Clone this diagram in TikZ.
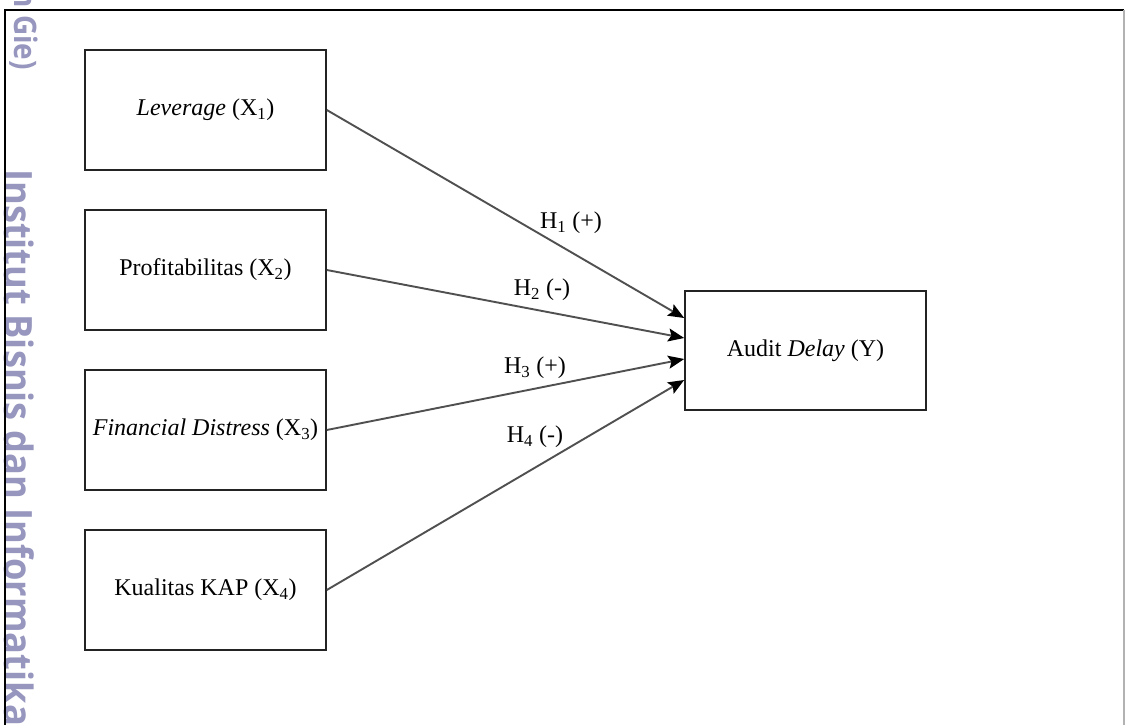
\documentclass[tikz,border=0pt]{standalone}
\usepackage{fontspec}
\usepackage{graphicx}
\setmainfont{Liberation Serif}
\newfontfamily\wmfont{Open Sans}
\usetikzlibrary{arrows.meta}
\definecolor{wmcol}{RGB}{150,150,190}
\definecolor{linecol}{RGB}{80,80,80}
\definecolor{boxcol}{RGB}{35,35,35}
\begin{document}
\begin{tikzpicture}[x=1pt,y=-1pt,
  varbox/.style={draw=boxcol, line width=1.6pt, minimum width=241pt, minimum height=120pt, inner sep=0pt, font=\fontsize{24}{28}\selectfont},
  conn/.style={draw=linecol, line width=1.9pt, -{Stealth[length=16pt,width=13pt,inset=3pt,color=black,fill=black]}},
  hlab/.style={font=\fontsize{24}{28}\selectfont, inner sep=0pt},
  wm/.style={text=wmcol, rotate=-90, inner sep=0pt, font=\wmfont\bfseries}]
\useasboundingbox (0,0) rectangle (1125,725);
\fill[white] (0,0) rectangle (1125,725);
% watermark
\node[wm, anchor=base east, font=\wmfont\bfseries\fontsize{31}{31}\selectfont] (wm1) at (14,70) {\scalebox{0.9}[1]{n Gie)}};
\node[wm, anchor=base west, font=\wmfont\bfseries\fontsize{39}{39}\selectfont] (wm2) at (5,169) {\scalebox{0.93}[1]{Institut Bisnis dan Informatika}};
% frame
\draw[black, line width=1.6pt] (5,735) -- (5,10) -- (1124,10);
\draw[gray!60, line width=1.2pt] (1124,10) -- (1124,735);
% boxes
\node[varbox] (x1) at (205.5,110) {\textit{Leverage} (X\textsubscript{1})};
\node[varbox] (x2) at (205.5,270) {Profitabilitas (X\textsubscript{2})};
\node[varbox] (x3) at (205.5,430) {\textit{Financial Distress} (X\textsubscript{3})};
\node[varbox] (x4) at (205.5,590) {Kualitas KAP (X\textsubscript{4})};
\node[varbox, minimum height=119pt] (y) at (805.5,350.5) {Audit \textit{Delay} (Y)};
\coordinate (t1) at ([yshift=32.5pt]y.west);
\coordinate (t2) at ([yshift=12.5pt]y.west);
\coordinate (t3) at ([yshift=-8.5pt]y.west);
\coordinate (t4) at ([yshift=-29.5pt]y.west);
\draw[conn] (x1.east) -- (t1);
\draw[conn] (x2.east) -- (t2);
\draw[conn] (x3.east) -- (t3);
\draw[conn] (x4.east) -- (t4);
\node[hlab] (h1) at (571,223) {H\textsubscript{1} (+)};
\node[hlab] (h2) at (542,290) {H\textsubscript{2} (-)};
\node[hlab] (h3) at (535,368) {H\textsubscript{3} (+)};
\node[hlab] (h4) at (535,437) {H\textsubscript{4} (-)};
\end{tikzpicture}
\end{document}
